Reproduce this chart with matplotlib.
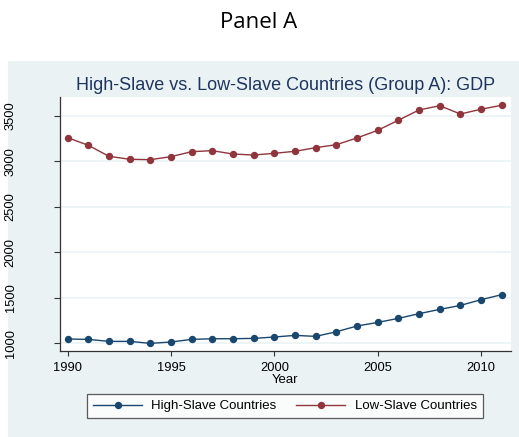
import matplotlib
matplotlib.use("Agg")
import matplotlib.pyplot as plt
from matplotlib.patches import Rectangle

years = list(range(1990, 2012))
high_slave = [1044, 1040, 1018, 1018, 996, 1011, 1040, 1047, 1047, 1051,
              1066, 1084, 1073, 1124, 1187, 1227, 1271, 1323, 1370, 1414, 1477, 1532]
low_slave = [3261, 3177, 3056, 3023, 3019, 3052, 3107, 3118, 3081, 3070,
             3089, 3111, 3151, 3184, 3258, 3342, 3453, 3566, 3613, 3522, 3574, 3618]
xticks = [1990, 1995, 2000, 2005, 2010]
yticks = [1000, 1500, 2000, 2500, 3000, 3500]

W, H = 519, 437
fig = plt.figure(figsize=(W / 100, H / 100), dpi=100)
fig.patch.set_facecolor("white")
plt.rcParams['font.family'] = ['Liberation Sans', 'DejaVu Sans']

bg = "#eaf2f3"
fig.add_artist(Rectangle((8 / W, 0), 1 - 8 / W, (H - 61) / H, transform=fig.transFigure,
                         facecolor=bg, edgecolor="none", zorder=0))

fig.text(259 / W, 1 - 22 / H, "Panel A", ha="center", va="center", fontsize=16,
         family=["Open Sans", "DejaVu Sans"], color="black")

ax = fig.add_axes([60 / W, (H - 351) / H, (511 - 60) / W, (351 - 97) / H])
ax.set_facecolor("white")
navy = "#1a476f"
maroon = "#90353b"
ax.plot(years, high_slave, color=navy, marker="o", markersize=4.3, linewidth=1.0,
        label="High-Slave Countries", zorder=3)
ax.plot(years, low_slave, color=maroon, marker="o", markersize=4.3, linewidth=1.0,
        label="Low-Slave Countries", zorder=3)

ax.set_xlim(1989.63, 2011.45)
ax.set_ylim(912, 3709)
ax.set_xticks(xticks)
ax.set_yticks(yticks)
ax.set_yticklabels([str(v) for v in yticks], rotation=90, va="center")
ax.tick_params(axis="both", labelsize=9.3, color="#333333", width=0.8)
ax.tick_params(axis="x", length=3.6, pad=4.5)
ax.tick_params(axis="y", length=4.3, pad=27)
ax.grid(axis="y", color=bg, linewidth=1.2, zorder=0)
for s in ["top", "right"]:
    ax.spines[s].set_visible(False)
for s in ["left", "bottom"]:
    ax.spines[s].set_color("#333333")
    ax.spines[s].set_linewidth(0.9)
ax.set_xlabel("Year", fontsize=9.5, labelpad=0)
ax.set_title("High-Slave vs. Low-Slave Countries (Group A): GDP", fontsize=13,
             color="#1e3560", pad=5)

leg = fig.legend(loc="center", bbox_to_anchor=(285 / W, 1 - 406 / H), ncol=2,
                 fontsize=9.5, frameon=True, fancybox=False, edgecolor="#333333",
                 handlelength=3.7, columnspacing=1.5, borderpad=0.45, handletextpad=0.7)
leg.get_frame().set_linewidth(0.9)

fig.savefig("out.png", dpi=100, facecolor=fig.get_facecolor())
